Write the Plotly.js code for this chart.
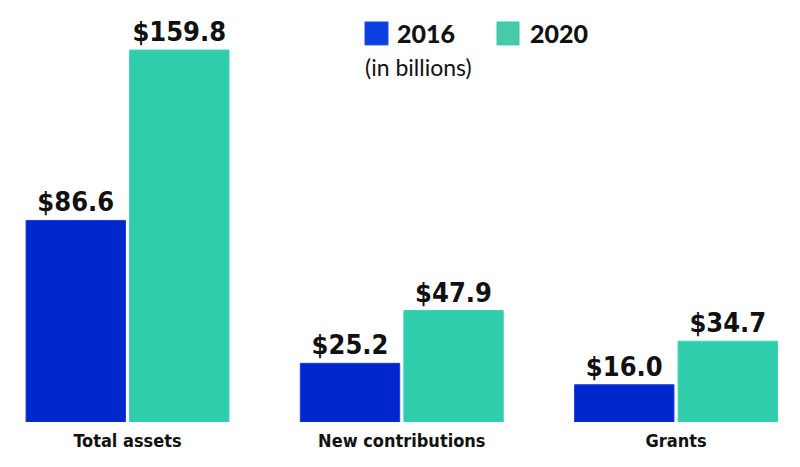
<!DOCTYPE html>
<html>
<head>
<meta charset="utf-8">
<script src="https://cdn.plot.ly/plotly-3.0.1.min.js"></script>
<style>html,body{margin:0;padding:0;background:#fff;}#chart{width:800px;height:467px;}</style>
</head>
<body>
<div id="chart"></div>
<script>
const categories = ["Total assets", "New contributions", "Grants"];
const values2016 = [86.6, 25.2, 16.0];
const values2020 = [159.8, 47.9, 34.7];
const seriesNames = ["2016", "2020"];
const unitNote = "(in billions)";

const blue = "#0027cc";
const green = "#2fcdab";
const fmt = v => "$" + v.toFixed(1);

const condensed = "DejaVu Sans Condensed, Liberation Sans Narrow, Liberation Sans, Arial";
const labelFont = {family: condensed, size: 27, color: "#111", weight: 700};

const traces = [
  {type: "bar", name: seriesNames[0], x: categories, y: values2016,
   marker: {color: blue, line: {color: "#1a3be0", width: 1}},
   text: values2016.map(fmt), textposition: "outside", cliponaxis: false,
   textfont: labelFont, hoverinfo: "none"},
  {type: "bar", name: seriesNames[1], x: categories, y: values2020,
   marker: {color: green, line: {color: "#3ad6b4", width: 1}},
   text: values2020.map(fmt), textposition: "outside", cliponaxis: false,
   textfont: labelFont, hoverinfo: "none"}
];

const legendFont = {family: "Lato, Open Sans, sans-serif", size: 25, color: "#111", weight: 900};

const layout = {
  width: 800, height: 467,
  margin: {l: 0, r: 0, t: 0, b: 44.5},
  paper_bgcolor: "#fff", plot_bgcolor: "#fff",
  showlegend: false,
  barmode: "group",
  bargap: 0.245,
  bargroupgap: 0.04,
  xaxis: {
    range: [-0.465, 2.452], showgrid: false, zeroline: false, showline: false,
    ticks: "", tickfont: {family: condensed, size: 18, color: "#111", weight: 700},
    ticklabelstandoff: 6
  },
  yaxis: {range: [0, 181.3], visible: false, showgrid: false, zeroline: false},
  shapes: [
    {type: "rect", xref: "paper", yref: "paper", x0: 365/800, x1: 388/800, y0: 1 - 45/422.5, y1: 1 - 22/422.5,
     fillcolor: "#0a3fe0", line: {color: "#1a4fe8", width: 1}},
    {type: "rect", xref: "paper", yref: "paper", x0: 497/800, x1: 519/800, y0: 1 - 45/422.5, y1: 1 - 22/422.5,
     fillcolor: "#45cba8", line: {color: "#3ac9a4", width: 1}}
  ],
  annotations: [
    {xref: "paper", yref: "paper", x: 395/800, y: 1 - 33.5/422.5, xanchor: "left", yanchor: "middle",
     text: seriesNames[0], showarrow: false, font: legendFont},
    {xref: "paper", yref: "paper", x: 528/800, y: 1 - 33.5/422.5, xanchor: "left", yanchor: "middle",
     text: seriesNames[1], showarrow: false, font: legendFont},
    {xref: "paper", yref: "paper", x: 363/800, y: 1 - 67/422.5, xanchor: "left", yanchor: "middle",
     text: unitNote, showarrow: false, font: {family: "Lato, Open Sans, sans-serif", size: 23, color: "#111"}}
  ]
};

Plotly.newPlot("chart", traces, layout, {displayModeBar: false, staticPlot: true});
</script>
</body>
</html>
